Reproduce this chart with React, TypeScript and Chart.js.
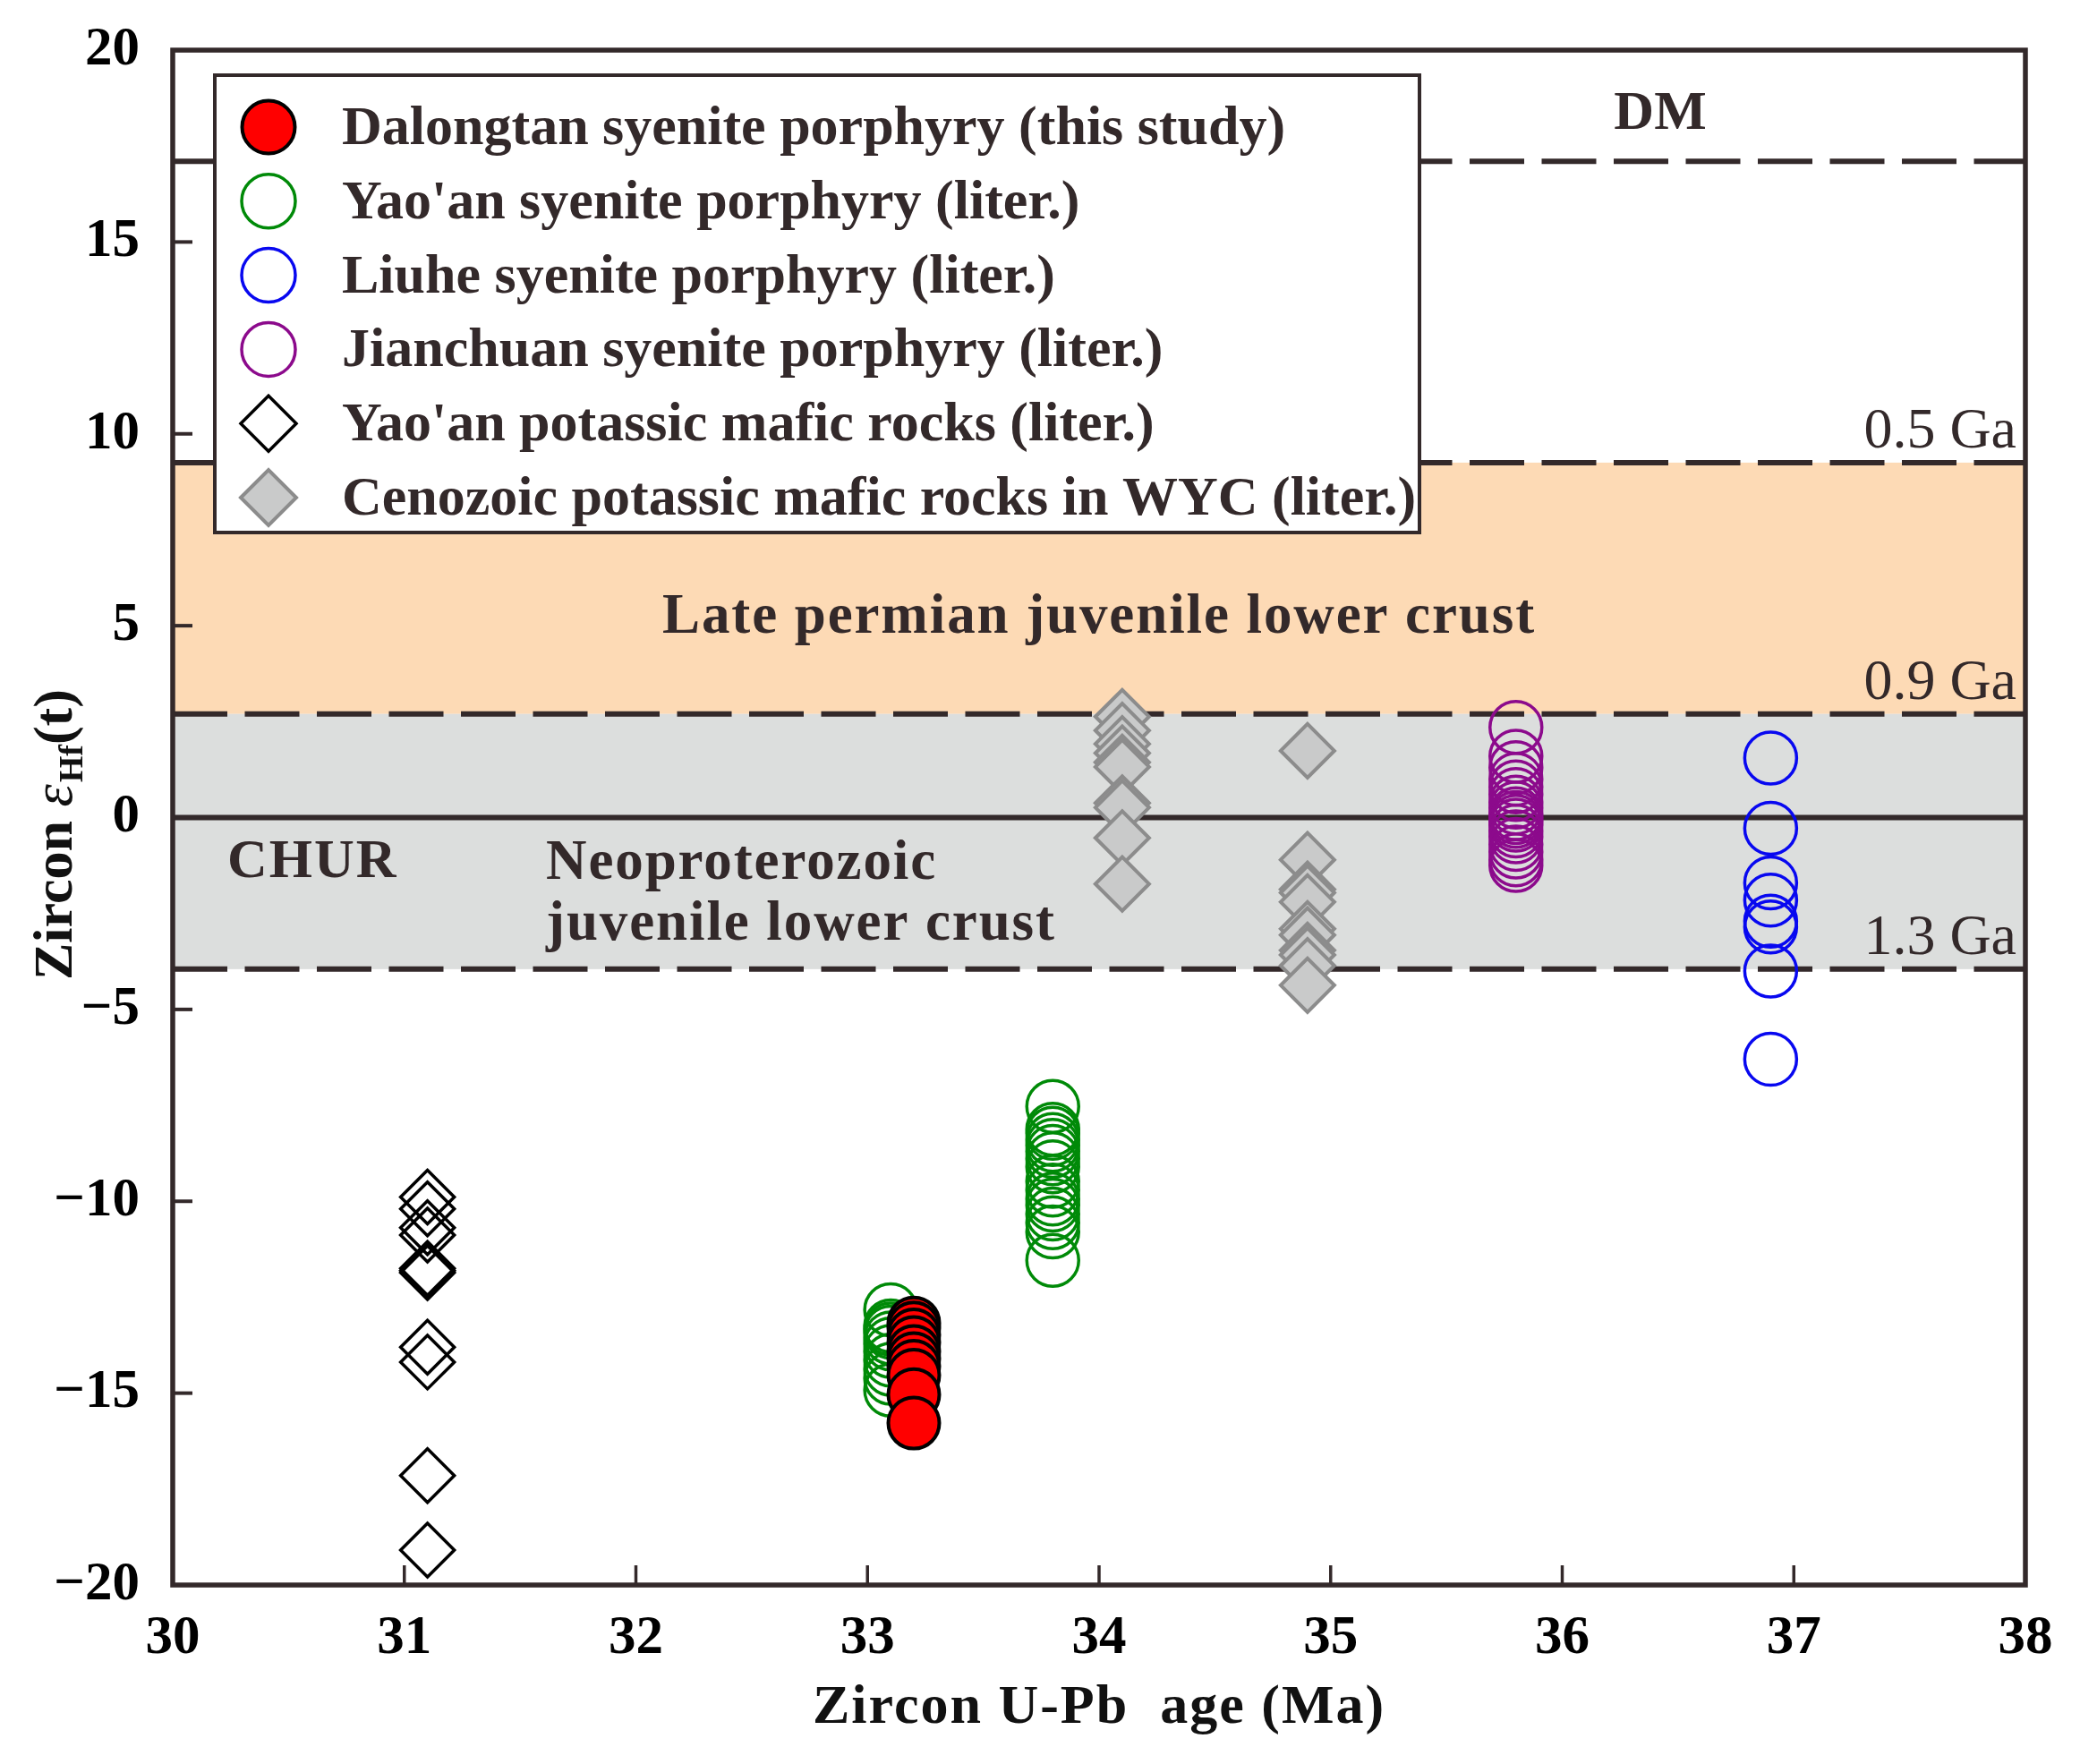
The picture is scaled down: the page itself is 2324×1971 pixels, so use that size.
import React, { useEffect, useRef } from 'react';
import { Chart, registerables } from 'chart.js';

Chart.register(...registerables);

const W = 2324;
const H = 1971;
const FONT = '"Liberation Serif", "Times New Roman", Times, serif';
const INK = '#33292a';

// ---------- data ----------
const dalongtanAge = 33.2;
const dalongtanHf = [-13.17, -13.3, -13.48, -13.68, -13.91, -14.1, -14.3, -14.53, -15.04, -15.78];

const yaoanSyeniteAgeA = 33.1;
const yaoanSyeniteHfA = [-12.83, -13.25, -13.33, -13.41, -13.56, -13.72, -13.91, -14.14, -14.38, -14.61, -14.92];
const yaoanSyeniteAgeB = 33.8;
const yaoanSyeniteHfB = [-7.53, -8.12, -8.23, -8.39, -8.54, -8.7, -8.89, -9.1, -9.48, -9.71, -9.94, -10.1, -10.33, -10.56, -10.8, -11.54];

const liuheAge = 36.9;
const liuheHf = [1.55, -0.28, -1.7, -2.15, -2.7, -2.85, -4.0, -6.3];

const jianchuanAge = 35.8;
const jianchuanHf = [2.35, 1.6, 1.3, 1.0, 0.8, 0.6, 0.4, 0.25, 0.1, 0.0, -0.1, -0.2, -0.35, -0.5, -0.7, -0.9, -1.1, -1.25];

const yaoanMaficAge = 31.1;
const yaoanMaficHf = [-9.89, -10.2, -10.69, -10.88, -11.75, -11.81, -11.86, -13.8, -14.19, -17.15, -19.09];

const cenozoicAgeA = 34.1;
const cenozoicHfA = [2.63, 2.27, 1.92, 1.68, 1.44, 1.32, 0.38, 0.26, -0.53, -1.73];
const cenozoicAgeB = 34.9;
const cenozoicHfB = [1.74, -1.1, -1.87, -1.96, -2.2, -2.9, -3.06, -3.46, -3.58, -3.86, -4.37];

const seriesNames = [
  'Dalongtan syenite porphyry (this study)',
  "Yao'an syenite porphyry (liter.)",
  'Liuhe syenite porphyry (liter.)',
  'Jianchuan syenite porphyry (liter.)',
  "Yao'an potassic mafic rocks (liter.)",
  'Cenozoic potassic mafic rocks in WYC (liter.)',
];

// reference evolution lines (εHf values at the plotted ages)
const dmLine = 17.1;
const modelAgeLines = [9.25, 2.7, -3.95];
const modelAgeLabels = ['0.5 Ga', '0.9 Ga', '1.3 Ga'];
const churLine = 0;
const lateLowerCrustBand = [9.25, 2.7];
const neoLowerCrustBand = [2.7, -3.95];

const xTicksMin = 30;
const xTicksMax = 38;
const yTicksMin = -20;
const yTicksMax = 20;

const pts = (age: number, vals: number[]) => vals.map((v) => ({ x: age, y: v }));

type Marker = { shape: 'circle' | 'diamond'; fill: string; stroke: string; lw: number; r: number };
const markers: Marker[] = [
  { shape: 'circle', fill: '#ff0000', stroke: '#000000', lw: 4, r: 28.5 },
  { shape: 'circle', fill: 'rgba(0,0,0,0)', stroke: '#008a08', lw: 3.5, r: 29 },
  { shape: 'circle', fill: 'rgba(0,0,0,0)', stroke: '#0808f0', lw: 3.5, r: 29 },
  { shape: 'circle', fill: 'rgba(0,0,0,0)', stroke: '#8c0a8c', lw: 3.5, r: 29 },
  { shape: 'diamond', fill: 'rgba(0,0,0,0)', stroke: '#000000', lw: 3.5, r: 30 },
  { shape: 'diamond', fill: '#c9caca', stroke: '#8c8c8c', lw: 4, r: 30 },
];

const seriesData = [
  pts(dalongtanAge, dalongtanHf),
  [...pts(yaoanSyeniteAgeA, yaoanSyeniteHfA), ...pts(yaoanSyeniteAgeB, yaoanSyeniteHfB)],
  pts(liuheAge, liuheHf),
  pts(jianchuanAge, jianchuanHf),
  pts(yaoanMaficAge, yaoanMaficHf),
  [...pts(cenozoicAgeA, cenozoicHfA), ...pts(cenozoicAgeB, cenozoicHfB)],
];

function drawMarker(ctx: CanvasRenderingContext2D, m: Marker, cx: number, cy: number) {
  ctx.beginPath();
  if (m.shape === 'circle') {
    ctx.arc(cx, cy, m.r + 1, 0, Math.PI * 2);
  } else {
    const r = m.r + 1;
    ctx.moveTo(cx - r, cy);
    ctx.lineTo(cx, cy - r);
    ctx.lineTo(cx + r, cy);
    ctx.lineTo(cx, cy + r);
    ctx.closePath();
  }
  ctx.fillStyle = m.fill;
  ctx.fill();
  ctx.lineWidth = m.lw;
  ctx.strokeStyle = m.stroke;
  ctx.stroke();
}

function setSpacing(ctx: CanvasRenderingContext2D, px: number) {
  (ctx as any).letterSpacing = px + 'px';
}

const decorPlugin = {
  id: 'zirconDecor',
  beforeDatasetsDraw(chart: any) {
    const { ctx, chartArea: ca, scales } = chart;
    const y = scales.y;
    ctx.save();
    // bands
    ctx.fillStyle = '#fddab5';
    let t = y.getPixelForValue(lateLowerCrustBand[0]);
    let b = y.getPixelForValue(lateLowerCrustBand[1]);
    ctx.fillRect(ca.left, t, ca.right - ca.left, b - t);
    ctx.fillStyle = '#dcdedd';
    t = y.getPixelForValue(neoLowerCrustBand[0]);
    b = y.getPixelForValue(neoLowerCrustBand[1]);
    ctx.fillRect(ca.left, t, ca.right - ca.left, b - t);

    // dashed lines
    ctx.strokeStyle = INK;
    ctx.lineWidth = 6;
    ctx.setLineDash([61, 19.5]);
    ctx.lineDashOffset = 0;
    [dmLine, ...modelAgeLines].forEach((v) => {
      const py = y.getPixelForValue(v);
      ctx.beginPath();
      ctx.moveTo(ca.left, py);
      ctx.lineTo(ca.right, py);
      ctx.stroke();
    });
    ctx.setLineDash([]);
    // CHUR
    const cy = y.getPixelForValue(churLine);
    ctx.beginPath();
    ctx.moveTo(ca.left, cy);
    ctx.lineTo(ca.right, cy);
    ctx.stroke();

    // region labels
    ctx.fillStyle = INK;
    ctx.textBaseline = 'alphabetic';
    ctx.font = `bold 63px ${FONT}`;
    setSpacing(ctx, 1.9);
    ctx.textAlign = 'center';
    ctx.fillText('Late permian juvenile lower crust', (ca.left + ca.right) / 2, y.getPixelForValue(lateLowerCrustBand[1]) - 91);
    ctx.textAlign = 'left';
    ctx.fillText('Neoproterozoic', 610, cy + 68);
    ctx.fillText('juvenile lower crust', 610, cy + 136);
    ctx.font = `bold 62px ${FONT}`;
    setSpacing(ctx, 2);
    ctx.fillText('CHUR', 254, cy + 66);
    setSpacing(ctx, 0);

    // model-age labels
    ctx.font = `64px ${FONT}`;
    ctx.textAlign = 'right';
    modelAgeLines.forEach((v, i) => {
      ctx.fillText(modelAgeLabels[i], ca.right - 10, y.getPixelForValue(v) - 17);
    });
    ctx.font = `bold 62px ${FONT}`;
    ctx.textAlign = 'center';
    ctx.fillText('DM', 1855, y.getPixelForValue(dmLine) - 36);
    ctx.restore();
  },
  afterDatasetsDraw(chart: any) {
    const { ctx, chartArea: ca, scales } = chart;
    const x = scales.x;
    const y = scales.y;
    ctx.save();
    // frame
    ctx.strokeStyle = INK;
    ctx.lineWidth = 5.5;
    ctx.strokeRect(ca.left, ca.top, ca.right - ca.left, ca.bottom - ca.top);
    // inner ticks
    ctx.lineWidth = 4;
    for (let v = yTicksMin; v <= yTicksMax; v += 5) {
      const py = y.getPixelForValue(v);
      ctx.beginPath();
      ctx.moveTo(ca.left, py);
      ctx.lineTo(ca.left + 22, py);
      ctx.stroke();
    }
    ctx.lineWidth = 3.5;
    for (let v = xTicksMin + 1; v < xTicksMax; v += 1) {
      const px = x.getPixelForValue(v);
      ctx.beginPath();
      ctx.moveTo(px, ca.bottom);
      ctx.lineTo(px, ca.bottom - 22);
      ctx.stroke();
    }

    // legend
    const lx = 240, ly = 84, lw = 1346, lh = 511;
    ctx.fillStyle = '#ffffff';
    ctx.fillRect(lx, ly, lw, lh);
    ctx.lineWidth = 4;
    ctx.strokeStyle = INK;
    ctx.strokeRect(lx, ly, lw, lh);
    ctx.font = `bold 62px ${FONT}`;
    ctx.textAlign = 'left';
    ctx.textBaseline = 'alphabetic';
    seriesNames.forEach((name, i) => {
      const cy = 142 + i * 82.8;
      drawMarker(ctx, markers[i], 300, cy);
      ctx.fillStyle = INK;
      ctx.fillText(name, 382, cy + 19);
    });

    // x title
    ctx.fillStyle = '#111111';
    ctx.font = `bold 62px ${FONT}`;
    setSpacing(ctx, 2);
    ctx.textAlign = 'center';
    ctx.fillText('Zircon U-Pb  age (Ma)', (ca.left + ca.right) / 2, 1925);
    setSpacing(ctx, 0);

    // y title (rotated)
    ctx.translate(80, 1095);
    ctx.rotate(-Math.PI / 2);
    ctx.textAlign = 'left';
    const segs = [
      { t: 'Zircon ', f: `bold 62px ${FONT}`, dy: 0 },
      { t: 'ε', f: `italic 64px ${FONT}`, dy: 0 },
      { t: 'Hf', f: `bold 38px ${FONT}`, dy: 12 },
      { t: '(t)', f: `bold 62px ${FONT}`, dy: 0 },
    ];
    let u = 0;
    segs.forEach((s) => {
      ctx.font = s.f;
      ctx.fillText(s.t, u, s.dy);
      u += ctx.measureText(s.t).width + (s.t === 'ε' ? 2 : 0);
    });
    ctx.restore();
  },
};

export default function App() {
  const ref = useRef<HTMLCanvasElement>(null);
  useEffect(() => {
    document.body.style.margin = '0';
    const canvas = ref.current!;
    const datasets = seriesData.map((data, i) => ({
      label: seriesNames[i],
      data,
      pointStyle: markers[i].shape === 'circle' ? 'circle' : 'rectRot',
      pointRadius: markers[i].r,
      pointHoverRadius: markers[i].r,
      pointBackgroundColor: markers[i].fill,
      pointBorderColor: markers[i].stroke,
      pointBorderWidth: markers[i].lw,
      showLine: false,
    }));
    const tickFont = { family: FONT, size: 61, weight: 'bold' as const };
    const chart = new Chart(canvas, {
      type: 'scatter',
      data: { datasets: datasets as any },
      options: {
        animation: false,
        responsive: false,
        devicePixelRatio: 1,
        events: [],
        layout: { padding: { top: 56, right: 61, left: 0, bottom: 0 } },
        plugins: { legend: { display: false }, tooltip: { enabled: false } },
        scales: {
          x: {
            type: 'linear',
            min: xTicksMin,
            max: xTicksMax,
            grid: { display: false, drawTicks: false },
            border: { display: false },
            ticks: { stepSize: 1, padding: 24, color: '#000', font: tickFont, maxRotation: 0, autoSkip: false },
            afterFit: (s: any) => {
              s.height = 200;
              s.paddingLeft = 0;
              s.paddingRight = 0;
            },
          },
          y: {
            type: 'linear',
            min: yTicksMin,
            max: yTicksMax,
            grid: { display: false, drawTicks: false },
            border: { display: false },
            ticks: {
              stepSize: 5,
              padding: 37,
              color: '#000',
              font: tickFont,
              callback: (v: any) => (Number(v) < 0 ? '\u2212' + Math.abs(Number(v)) : String(v)),
            },
            afterFit: (s: any) => {
              s.width = 193;
              s.paddingTop = 0;
              s.paddingBottom = 0;
            },
          },
        },
      },
      plugins: [decorPlugin],
    });
    return () => chart.destroy();
  }, []);
  return <canvas ref={ref} width={W} height={H} style={{ display: 'block', width: W + 'px', height: H + 'px' }} />;
}
